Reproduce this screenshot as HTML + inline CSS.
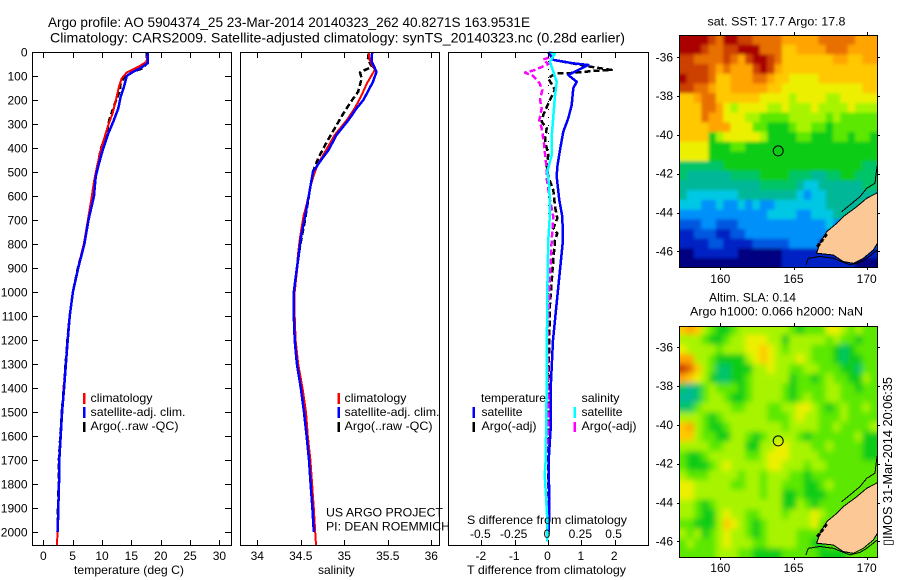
<!DOCTYPE html>
<html>
<head>
<meta charset="utf-8">
<title>Argo profile</title>
<style>
html,body{margin:0;padding:0;background:#fff;}
svg{display:block;}
text{font-family:"Liberation Sans",Arial,sans-serif;font-size:12px;fill:#000;}
</style>
</head>
<body>
<svg id="chart" xmlns="http://www.w3.org/2000/svg" width="900" height="580" viewBox="0 0 900 580">
<rect x="0" y="0" width="900" height="580" fill="#fff"/>
<defs>
<clipPath id="clip-sst"><rect x="680" y="35" width="197" height="232"/></clipPath>
<clipPath id="clip-sla"><rect x="680" y="326" width="197" height="231"/></clipPath>
<filter id="soften-sst" x="-10%" y="-10%" width="120%" height="120%"><feGaussianBlur stdDeviation="1.6"/></filter>
<filter id="soften-sla" x="-10%" y="-10%" width="120%" height="120%"><feGaussianBlur stdDeviation="3"/></filter>
</defs>
<g id="layer-panels"></g>
<g id="layer-maps"></g>

<text x="48" y="27" style="font-size:14px" textLength="482" lengthAdjust="spacingAndGlyphs">Argo profile: AO 5904374_25 23-Mar-2014 20140323_262 40.8271S 163.9531E</text>
<text x="50" y="42.5" style="font-size:14px" textLength="575" lengthAdjust="spacingAndGlyphs">Climatology: CARS2009. Satellite-adjusted climatology: synTS_20140323.nc (0.28d earlier)</text>

<text x="74" y="574" textLength="110" lengthAdjust="spacingAndGlyphs">temperature (deg C)</text>
<text x="318" y="574">salinity</text>
<text x="467" y="574" textLength="159" lengthAdjust="spacingAndGlyphs">T difference from climatology</text>
<text x="467" y="524" textLength="160" lengthAdjust="spacingAndGlyphs">S difference from climatology</text>

<g>
<rect x="83" y="393" width="2.5" height="11" fill="#f00"/>
<rect x="83" y="407" width="2.5" height="11" fill="#00f"/>
<rect x="83" y="422" width="2.5" height="10" fill="#000"/>
<text x="90.5" y="402" textLength="62" lengthAdjust="spacingAndGlyphs">climatology</text>
<text x="90.5" y="416" textLength="95" lengthAdjust="spacingAndGlyphs">satellite-adj. clim.</text>
<text x="90.5" y="430" textLength="88" lengthAdjust="spacingAndGlyphs">Argo(..raw -QC)</text>
</g>
<g>
<rect x="337.5" y="393" width="2.5" height="11" fill="#f00"/>
<rect x="337.5" y="407" width="2.5" height="11" fill="#00f"/>
<rect x="337.5" y="422" width="2.5" height="10" fill="#000"/>
<text x="344.5" y="402" textLength="62" lengthAdjust="spacingAndGlyphs">climatology</text>
<text x="344.5" y="416" textLength="95" lengthAdjust="spacingAndGlyphs">satellite-adj. clim.</text>
<text x="344.5" y="430" textLength="88" lengthAdjust="spacingAndGlyphs">Argo(..raw -QC)</text>
</g>
<text x="326" y="516.5" textLength="117" lengthAdjust="spacingAndGlyphs">US ARGO PROJECT</text>
<text x="326" y="530.5" textLength="124" lengthAdjust="spacingAndGlyphs">PI: DEAN ROEMMICH</text>

<g>
<text x="481" y="402" textLength="65" lengthAdjust="spacingAndGlyphs">temperature</text>
<text x="581.5" y="402" textLength="38" lengthAdjust="spacingAndGlyphs">salinity</text>
<rect x="472.5" y="407" width="2.5" height="11" fill="#00f"/>
<rect x="472.5" y="422" width="2.5" height="10" fill="#000"/>
<rect x="573.5" y="407" width="2.5" height="11" fill="#0ff"/>
<rect x="573.5" y="422" width="2.5" height="10" fill="#f0f"/>
<text x="481.5" y="416" textLength="41" lengthAdjust="spacingAndGlyphs">satellite</text>
<text x="481.5" y="430" textLength="55" lengthAdjust="spacingAndGlyphs">Argo(-adj)</text>
<text x="581.5" y="416" textLength="41" lengthAdjust="spacingAndGlyphs">satellite</text>
<text x="581.5" y="430" textLength="55" lengthAdjust="spacingAndGlyphs">Argo(-adj)</text>
</g>

<text x="707.5" y="25.5" textLength="138" lengthAdjust="spacingAndGlyphs">sat. SST: 17.7 Argo: 17.8</text>
<text x="709" y="301.5" textLength="87" lengthAdjust="spacingAndGlyphs">Altim. SLA: 0.14</text>
<text x="690" y="315.5" textLength="173" lengthAdjust="spacingAndGlyphs">Argo h1000: 0.066 h2000: NaN</text>
<text transform="translate(892,546) rotate(-90)" style="font-size:13px" textLength="169" lengthAdjust="spacingAndGlyphs">▯IMOS 31-Mar-2014 20:06:35</text>
</svg>

<script>
// ---------- axis tick data ----------
const depthTicks = [0,100,200,300,400,500,600,700,800,900,1000,1100,1200,1300,1400,1500,1600,1700,1800,1900,2000];
const tempTicks = [0,5,10,15,20,25,30];
const salinityTicks = [34,34.5,35,35.5,36];
const tDiffTicks = [-2,-1,0,1,2];
const sDiffTicks = [-0.5,-0.25,0,0.25,0.5];
const lonTicks = [160,165,170];
const latTicks = [-36,-38,-40,-42,-44,-46];

// ---------- temperature profiles ----------
const tempClimDepth = [0,40,58,75,86,110,144,186,255,304,394,471,540,603,700,800,900,1000,1100,1200,1300,1400,1500,1600,1700,1800,1900,2000,2054];
const tempClimValue = [17.78,17.6,16.47,15.05,14.2,13.35,12.9,12.5,11.83,11.07,9.93,9.2,8.64,8.24,7.6,6.9,5.9,5.06,4.55,4.2,3.87,3.45,3.25,2.98,2.75,2.68,2.55,2.42,2.33];
const tempSatDepth = [0,47,68,86,100,144,186,235,290,339,401,464,519,600,700,800,900,1000,1100,1200,1300,1400,1500,1600,1700,1800,1900,2000];
const tempSatValue = [17.78,17.78,16.47,15.05,14.2,13.75,13.18,12.78,11.93,11.07,10.22,9.49,8.92,8.64,7.7,7.0,5.95,5.05,4.5,4.15,3.85,3.55,3.2,2.96,2.73,2.68,2.55,2.45];
const tempArgoDepth = [0,47,68,82,110,138,159,214,283,339,401,492,600,700,800,900,1000,1100,1200,1300,1400,1500,1600,1700,1800,1900,2000];
const tempArgoValue = [17.6,17.6,16.93,15.33,13.63,13.07,13.07,12.2,11.25,10.8,9.83,9.09,8.5,7.65,6.95,5.9,5.05,4.5,4.1,3.8,3.5,3.15,2.9,2.65,2.6,2.5,2.42];

// ---------- salinity profiles ----------
const salClimDepth = [0,33,75,131,179,235,283,346,415,464,513,561,631,686,776,850,900,1000,1100,1200,1300,1400,1500,1600,1700,1800,1900,2000,2054];
const salClimValue = [35.28,35.29,35.35,35.26,35.2,35.12,35.03,34.89,34.78,34.7,34.65,34.61,34.57,34.53,34.49,34.465,34.46,34.43,34.43,34.44,34.47,34.52,34.56,34.58,34.61,34.63,34.65,34.665,34.675];
const salSatDepth = [0,40,82,124,158,200,235,283,346,408,457,499,561,603,686,776,850,900,1000,1100,1200,1300,1400,1500,1600,1700,1800,1900,2000];
const salSatValue = [35.32,35.315,35.37,35.33,35.28,35.22,35.14,35.05,34.91,34.82,34.72,34.64,34.61,34.59,34.55,34.5,34.475,34.455,34.42,34.42,34.43,34.455,34.5,34.537,34.567,34.594,34.613,34.633,34.65];
const salArgoDepth = [6,33,61,85,110,165,200,256,318,374,443,499,561,617,707,800,900,1000,1100,1200,1300,1400,1500,1600,1700,1800,1900,2000];
const salArgoValue = [35.28,35.27,35.32,35.18,35.2,35.16,35.09,34.99,34.89,34.8,34.7,34.64,34.61,34.585,34.545,34.495,34.455,34.425,34.425,34.435,34.46,34.5,34.54,34.57,34.6,34.615,34.635,34.65];

// ---------- difference profiles ----------
const tSatDiffDepth = [0,33,47,54,96,124,151,221,276,332,408,478,519,617,686,783,908,1033,1200,1400,1545,1700,1900,2000];
const tSatDiffValue = [0,0.16,0.76,1.21,0.61,0.86,0.76,0.71,0.61,0.46,0.36,0.28,0.26,0.34,0.43,0.45,0.36,0.27,0.15,0.08,0.09,0.02,0.04,0.02];
const tArgoDiffDepth = [0,33,61,75,78,89,89,110,158,214,262,290,318,367,429,471,519,575,644,693,735,756,783,900,1050,1200,1400,1700,2000];
const tArgoDiffValue = [0.01,0.16,1.26,1.91,1.46,0.56,0.21,0.01,0.21,0.01,-0.14,-0.19,-0.04,-0.09,0.01,-0.04,0.01,0.16,0.21,0.28,0.16,0.28,0.21,0.14,0.06,0.04,0.01,0.0,0.01];
const sSatDiffDepth = [0,8,40,75,124,186,269,353,429,499,561,672,783,1000,1200,1400,1700,1760,1850,1950,2040];
const sSatDiffValue = [0.015,0.05,0.015,0.035,0.065,0.052,0.04,0.028,0.028,-0.005,0.01,0.015,0.0025,-0.005,-0.008,-0.01,-0.0175,-0.025,-0.015,-0.005,-0.005];
const sArgoDiffDepth = [0,19,31,50,75,86,100,128,158,200,235,283,318,381,436,485,526,617,686,783,1000,1200,1400,1750,2000];
const sArgoDiffValue = [0.0025,0.03,-0.035,0.0025,-0.0975,-0.1725,-0.11,-0.065,-0.0425,-0.06,-0.0475,-0.065,-0.0475,-0.03,-0.02,-0.01,-0.01,0.015,0.04,0.0275,0.01,-0.005,0,0.005,0.005];
const zeroLineT = [0];

// ---------- map cell data: each character is a colour level 0-f, rows north to south, 0.5 deg cells ----------
const sstRows = [
"ffffedffeeddddcccccdddddccc",
"fffeddeefffdddbbccccdddcccc",
"eeddddedceffedbbbbbbbccbbcc",
"eeeedcdcccefecbbbbbbbbbbbbb",
"feeedbbcccddcbbaaaabbbbbbbb",
"eeddcbbcccccbbaaaaaaaaaaabb",
"bbcddbbbbbbaaaa9aaaa99aaaaa",
"bbbddca9aaaa99a999a9999a999",
"bbbdccaaa998888999998988888",
"bbbbcccaaa88777899887888888",
"bbbb79aaaaa9777788777887887",
"aaaa77788777777777777777777",
"aaaa77777777777777777777777",
"666666777777777777777777766",
"655555566667777666556677666",
"555555555556666654455555566",
"544444445555555543445555555",
"444334334343344444445555555",
"333333333333444433444555555",
"222332223333333333334333333",
"112221122333333333333333333",
"111122111122222333322222222",
"001111110000001111111111111",
"000000000000001111111111000"
];
const slaRows = [
"bcb98778999999987888aa98988",
"999877899aaa997999998988788",
"a99998999aaba98999888767888",
"cc99877779aba999a9888767788",
"edb986677799a99889988877688",
"cba976677899999788789887798",
"656898887899998788889988788",
"556899877899998789889988888",
"6689999889998899aa987898898",
"9998789999998889a9988898888",
"bc9877899999998999988988889",
"bb9887799878999987888888977",
"9999889997799aa999889888877",
"877899999889aaa999988888877",
"877789a99999aa9998998888888",
"988899998998999887888888888",
"aa9999988998998887789888888",
"aa9999999998997787778888888",
"998789999999997798788888888",
"998779a99889998999a98888888",
"887779ba9878999999a88888888",
"989789a99878999988888888888",
"898889a99988999988778877888",
"888889998877778888877778888"
];
const cellLonStart = [157.2];
const cellLatStart = [-34.85];
const cellStep = [0.5];

// ---------- geography (lon, lat) ----------
const landLon = [170.73,170.0,169.32,168.41,167.95,167.27,166.81,166.58,167.72,168.41,169.09,169.77,170.46,170.73];
const landLat = [-42.98,-43.27,-43.70,-44.21,-44.56,-44.99,-45.59,-46.10,-46.19,-46.53,-46.62,-46.36,-45.93,-45.59];
const shelfNorthLon = [170.73,170.64,170.57,170.0,169.54,168.86,168.29];
const shelfNorthLat = [-41.55,-41.98,-42.49,-42.75,-43.18,-43.61,-43.96];
const shelfSouthLon = [170.73,170.0,169.54,168.86,167.72,166.81,166.01,165.85];
const shelfSouthLat = [-45.93,-46.36,-46.57,-46.7,-46.36,-46.27,-46.36,-46.7];
const fiordLon = [167.27,166.81,166.54];
const fiordLat = [-45.11,-45.59,-45.85];
const floatLon = [163.9531];
const floatLat = [-40.8271];

// ---------- rendering ----------
const NS = 'http://www.w3.org/2000/svg';
const palette = ['#000080','#0020c4','#0058e0','#0090fa','#00c8e4','#00b898','#00c468','#08cc18','#5ce800','#a8f400','#ecf000','#ffc800','#ffa400','#e87000','#cc4000','#aa0000'];
const panelsLayer = document.getElementById('layer-panels');
const mapsLayer = document.getElementById('layer-maps');

function make(tag, attrs, parent){
  const el = document.createElementNS(NS, tag);
  for (const k in attrs) el.setAttribute(k, attrs[k]);
  parent.appendChild(el);
  return el;
}
function label(str, x, y, anchor, name, parent){
  const t = make('text', {x:x, y:y, 'text-anchor':anchor}, parent);
  t.textContent = str;
  
  
  return t;
}
function tick(x1,y1,x2,y2,name,parent){
  const l = make('line',{x1:x1,y1:y1,x2:x2,y2:y2,stroke:'#000','stroke-width':1,'shape-rendering':'crispEdges'},parent);
  
  
}
const depthY = d => 52 + 0.24 * d;
const tempX = v => 43.3 + 5.87 * v;
const salX = v => 257.3 + 87 * (v - 34);
const tDiffX = v => 548 + 33.33 * v;
const sDiffX = v => 548 + 133.3 * v;

function drawProfile(name, depths, values, xf, color, width, dash, parent){
  const pts = depths.map((d,i) => xf(values[i]).toFixed(1) + ',' + depthY(d).toFixed(1)).join(' ');
  const p = make('polyline',{points:pts,fill:'none',stroke:color,'stroke-width':width,'shape-rendering':'crispEdges','stroke-linejoin':'round'},parent);
  if (dash) p.setAttribute('stroke-dasharray', dash);
  
  
}
function frame(name, x0, x1, y0, y1, parent){
  const r = make('rect',{x:x0,y:y0,width:x1-x0,height:y1-y0,fill:'none',stroke:'#000','stroke-width':1,'shape-rendering':'crispEdges'},parent);
  
  
}

// Temperature panel
const pT = make('g',{},panelsLayer);


drawProfile('temperature-argo-line', tempArgoDepth, tempArgoValue, tempX, '#000', 2.5, '6 3', pT);
drawProfile('temperature-climatology-line', tempClimDepth, tempClimValue, tempX, '#f00', 2, null, pT);
drawProfile('temperature-satellite-line', tempSatDepth, tempSatValue, tempX, '#00f', 2.5, null, pT);
frame('temperature-plot-frame', 32.5, 231.5, 52.5, 545.5, pT);
tempTicks.forEach(v => {
  const x = Math.round(tempX(v)) + 0.5;
  tick(x,53,x,58,'temperature-top-tick',pT);
  tick(x,540,x,545,'temperature-bottom-tick',pT);
  label(String(v), tempX(v), 560, 'middle', 'temperature-tick-label', pT);
});
depthTicks.forEach(d => {
  const y = Math.round(depthY(d)) + 0.5;
  tick(33,y,38,y,'depth-left-tick',pT);
  tick(225,y,231,y,'depth-right-tick',pT);
  label(String(d), 27.5, depthY(d) + 4.5, 'end', 'depth-tick-label', pT);
});

// Salinity panel
const pS = make('g',{},panelsLayer);


drawProfile('salinity-argo-line', salArgoDepth, salArgoValue, salX, '#000', 2.5, '6 3', pS);
drawProfile('salinity-climatology-line', salClimDepth, salClimValue, salX, '#f00', 2, null, pS);
drawProfile('salinity-satellite-line', salSatDepth, salSatValue, salX, '#00f', 2.5, null, pS);
frame('salinity-plot-frame', 240.5, 439.5, 52.5, 545.5, pS);
salinityTicks.forEach(v => {
  const x = Math.round(salX(v)) + 0.5;
  tick(x,53,x,58,'salinity-top-tick',pS);
  tick(x,540,x,545,'salinity-bottom-tick',pS);
  label(String(v), salX(v), 560, 'middle', 'salinity-tick-label', pS);
});

// Difference panel
const pD = make('g',{},panelsLayer);


const zx = Math.round(tDiffX(zeroLineT[0])) + 0.5;
const zl = make('line',{x1:zx,y1:53,x2:zx,y2:545,stroke:'#000','stroke-width':1,'stroke-dasharray':'1 7','shape-rendering':'crispEdges'},pD);


drawProfile('t-argo-difference-line', tArgoDiffDepth, tArgoDiffValue, tDiffX, '#000', 2.5, '6 3', pD);
drawProfile('s-argo-difference-line', sArgoDiffDepth, sArgoDiffValue, sDiffX, '#f0f', 2.5, '6 3', pD);
drawProfile('t-satellite-difference-line', tSatDiffDepth, tSatDiffValue, tDiffX, '#00f', 2.5, null, pD);
drawProfile('s-satellite-difference-line', sSatDiffDepth, sSatDiffValue, sDiffX, '#0ff', 2.5, null, pD);
frame('difference-plot-frame', 448.5, 648.5, 52.5, 545.5, pD);
tDiffTicks.forEach(v => {
  const x = Math.round(tDiffX(v)) + 0.5;
  tick(x,53,x,58,'t-difference-top-tick',pD);
  tick(x,540,x,545,'t-difference-bottom-tick',pD);
  label(String(v), tDiffX(v) - 0.5, 560, 'middle', 't-difference-tick-label', pD);
});
sDiffTicks.forEach(v => {
  label(String(v), sDiffX(v) - 1, 538, 'middle', 's-difference-tick-label', pD);
});

// Maps
function drawMap(name, rows, top, bottom, lat36, labelBase, clipId, filterId){
  const lonX = lon => 720.3 + 14.64 * (lon - 160);
  const latY = lat => lat36 + 19.4 * (-36 - lat);
  const m = make('g',{},mapsLayer);
  
  
  const body = make('g',{'clip-path':'url(#'+clipId+')'},m);
  const cells = make('g',{filter:'url(#'+filterId+')'},body);
  rows.forEach((row, r) => {
    for (let c = 0; c < row.length; c++) {
      const lon = cellLonStart[0] + c * cellStep[0];
      const lat = cellLatStart[0] - r * cellStep[0];
      let x0 = lonX(lon), x1 = lonX(lon + cellStep[0]);
      let y0 = latY(lat), y1 = latY(lat - cellStep[0]);
      if (c === 0) x0 -= 10;
      if (c === row.length - 1) x1 += 10;
      if (r === 0) y0 -= 10;
      if (r === rows.length - 1) y1 += 10;
      const cell = make('rect',{x:x0.toFixed(1),y:y0.toFixed(1),width:(x1-x0+0.6).toFixed(1),height:(y1-y0+0.6).toFixed(1),fill:palette[parseInt(row[c],16)]},cells);
      
      
    }
  });
  const toPts = (lons,lats) => lons.map((l,i)=>lonX(l).toFixed(1)+','+latY(lats[i]).toFixed(1)).join(' ');
  const land = make('polygon',{points:toPts(landLon,landLat),fill:'#fcc896',stroke:'#000','stroke-width':1,'shape-rendering':'crispEdges'},body);
  
  
  const north = make('polyline',{points:toPts(shelfNorthLon,shelfNorthLat),fill:'none',stroke:'#000','stroke-width':1,'shape-rendering':'crispEdges'},body);
  
  
  const south = make('polyline',{points:toPts(shelfSouthLon,shelfSouthLat),fill:'none',stroke:'#000','stroke-width':1,'shape-rendering':'crispEdges'},body);
  
  
  const fiord = make('polyline',{points:toPts(fiordLon,fiordLat),fill:'none',stroke:'#000','stroke-width':3,'stroke-dasharray':'4 2','shape-rendering':'crispEdges'},body);
  
  
  const marker = make('circle',{cx:lonX(floatLon[0]).toFixed(1),cy:latY(floatLat[0]).toFixed(1),r:5,fill:'none',stroke:'#000','stroke-width':1},m);
  
  
  frame(name + '-frame', 679.5, 877.5, top + 0.5, bottom + 0.5, m);
  lonTicks.forEach(l => {
    const x = Math.round(lonX(l)) + 0.5;
    tick(x,top-3,x,top,'longitude-top-tick',m);
    tick(x,bottom,x,bottom+3,'longitude-bottom-tick',m);
    label(String(l), lonX(l), labelBase, 'middle', 'longitude-tick-label', m);
  });
  latTicks.forEach(l => {
    const y = Math.round(latY(l)) + 0.5;
    tick(677,y,680,y,'latitude-left-tick',m);
    tick(877,y,880,y,'latitude-right-tick',m);
    label(String(l), 673, latY(l) + 4, 'end', 'latitude-tick-label', m);
  });
}
drawMap('sst-map', sstRows, 35, 267, 57.3, 283, 'clip-sst', 'soften-sst');
drawMap('sla-map', slaRows, 326, 557, 347.3, 572, 'clip-sla', 'soften-sla');
</script>
</body>
</html>
